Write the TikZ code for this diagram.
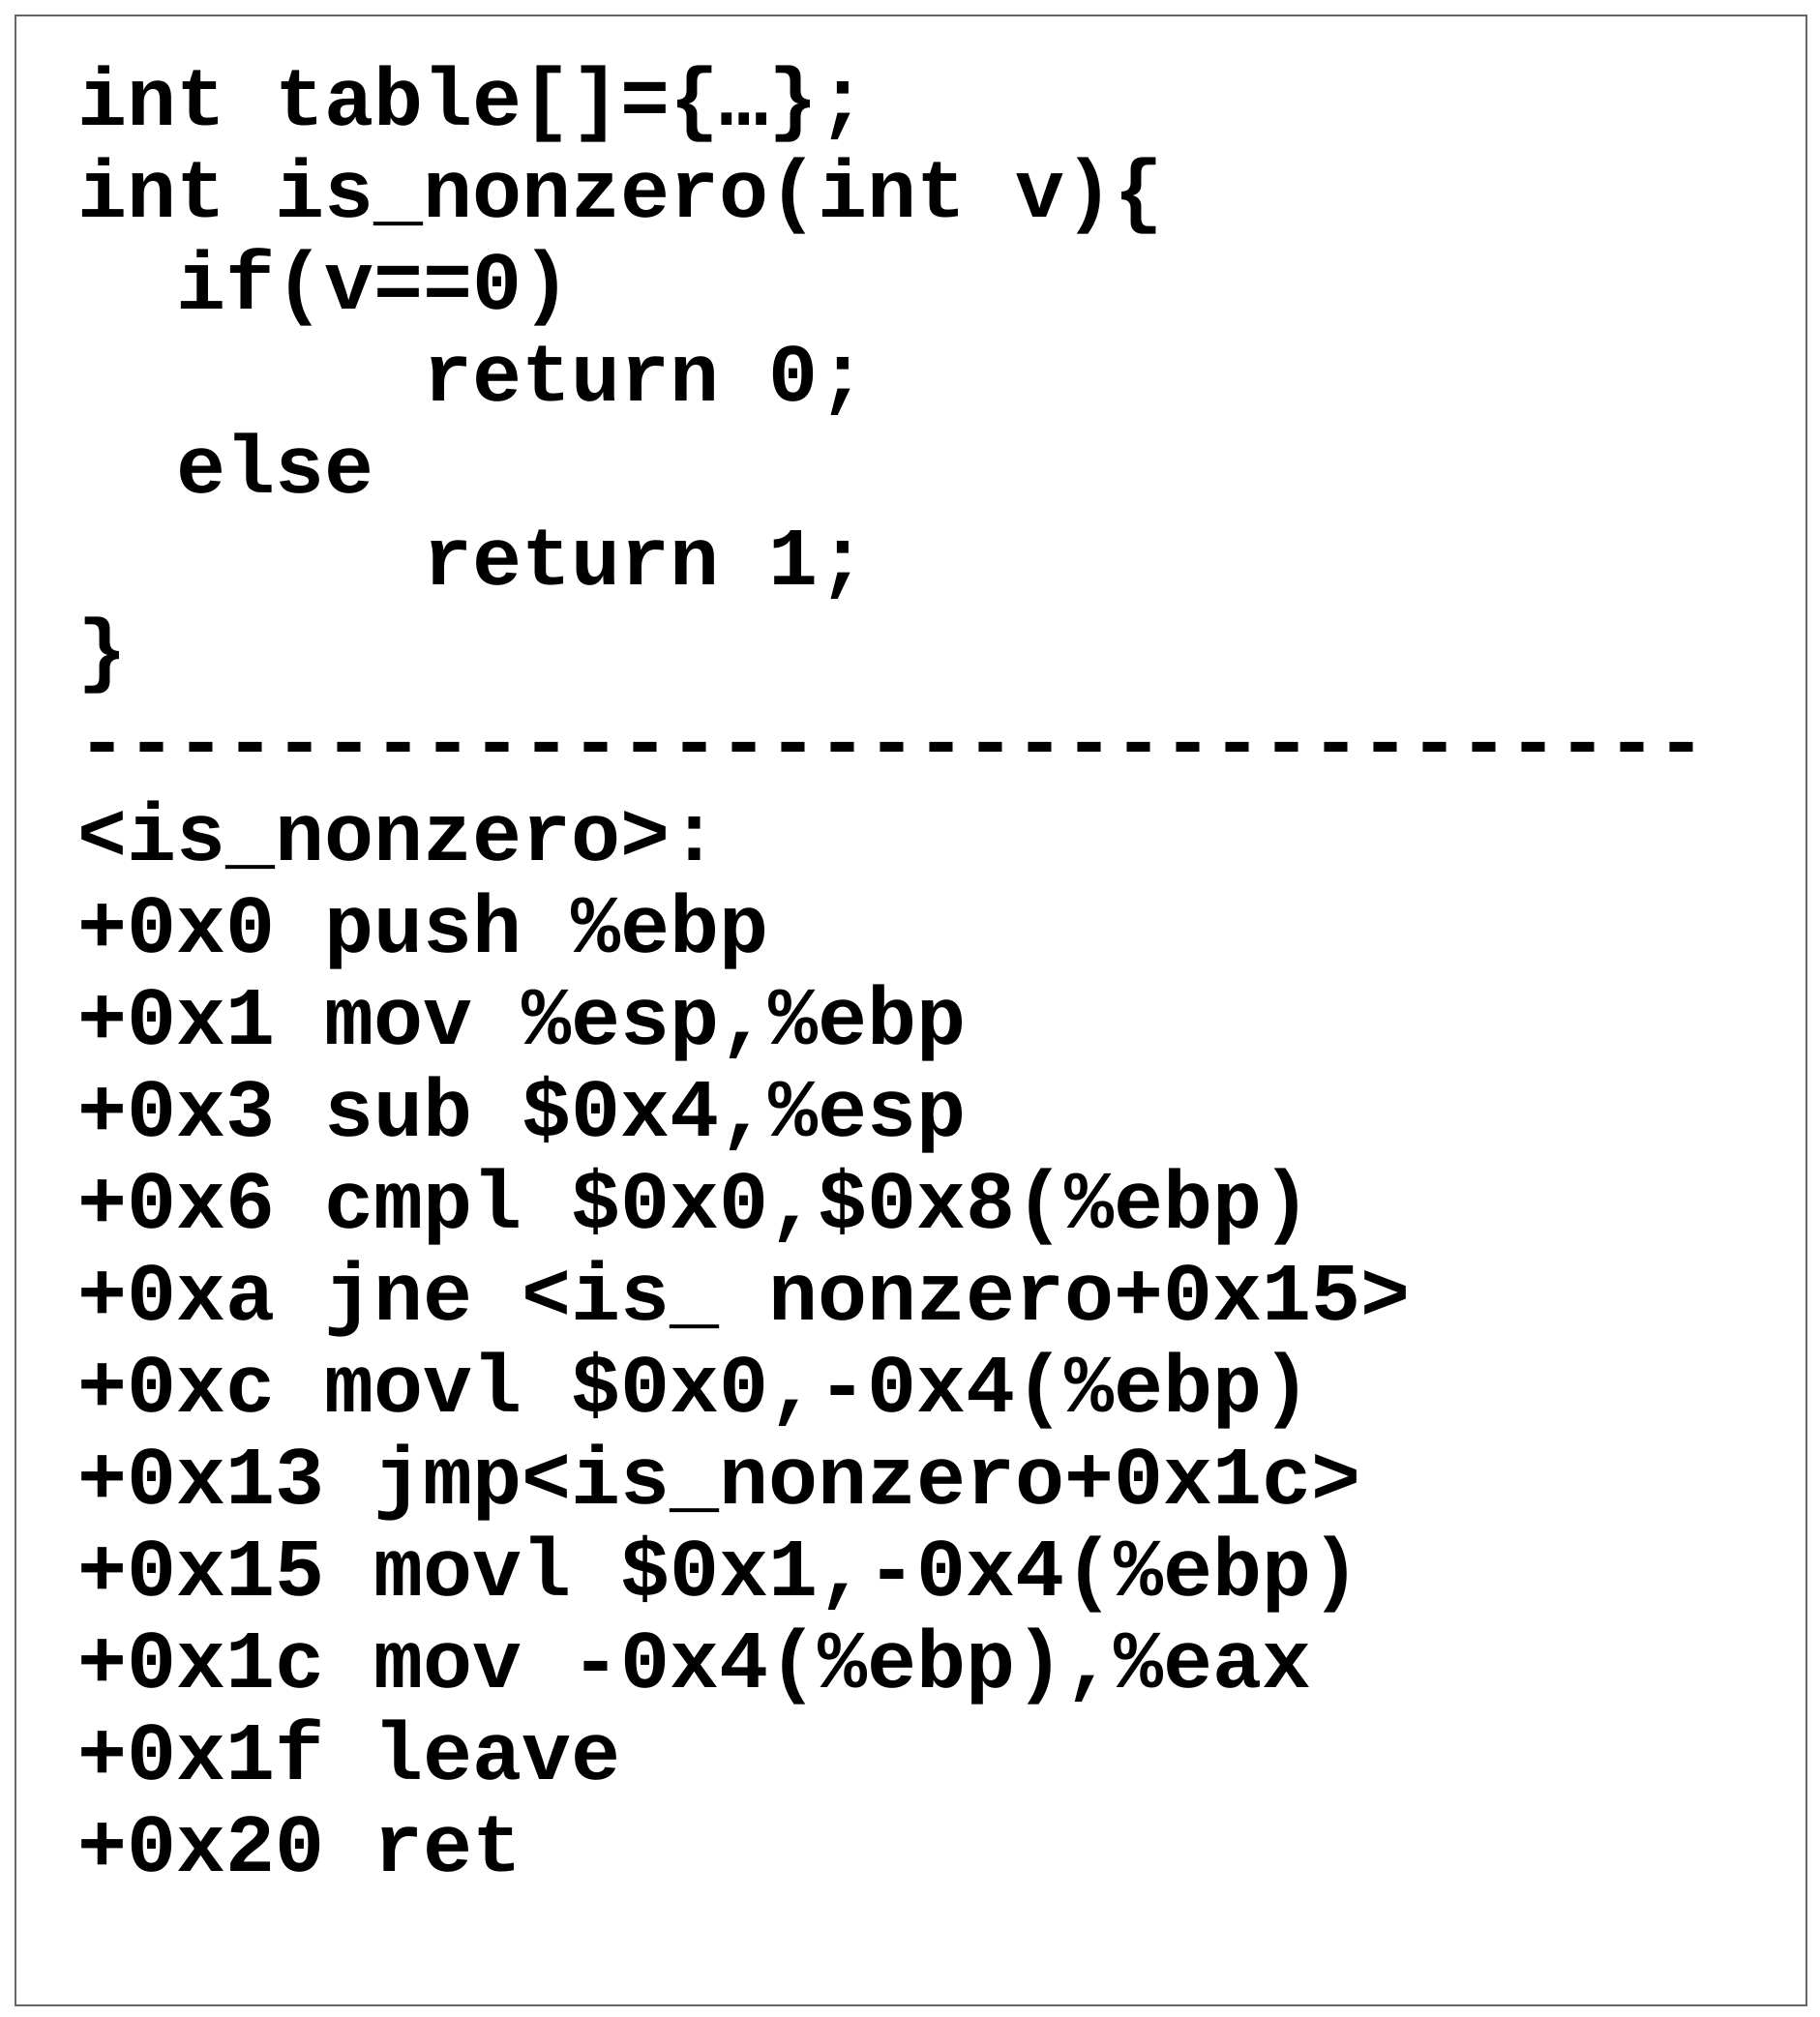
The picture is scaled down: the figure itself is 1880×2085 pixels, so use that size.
\documentclass[tikz,border=0pt]{standalone}
\usepackage{fontspec}
\setmonofont{Liberation Mono}
\begin{document}
\begin{tikzpicture}[x=1pt,y=-1pt,ln/.style={anchor=base west,inner sep=0pt,font=\ttfamily\bfseries\fontsize{85}{95}\selectfont}]
\useasboundingbox (0,0) rectangle (1880,2085);
\fill[white] (0,0) rectangle (1880,2085);
\draw[draw=black!60,line width=2pt] (16,16) rectangle (1867,2073);
\def\L#1#2#3{\node[ln] (n#1) at ({80+#2*51},{129+(#1-1)*95}) {#3};}
\L{1}{0}{int table[]=\{…\};}
\L{2}{0}{int is\_nonzero(int v)\{}
\L{3}{2}{if(v==0)}
\L{4}{7}{return 0;}
\L{5}{2}{else}
\L{6}{7}{return 1;}
\L{7}{0}{\}}
\L{8}{0}{---------------------------------}
\L{9}{0}{<is\_nonzero>:}
\L{10}{0}{+0x0 push \%ebp}
\L{11}{0}{+0x1 mov \%esp,\%ebp}
\L{12}{0}{+0x3 sub \$0x4,\%esp}
\L{13}{0}{+0x6 cmpl \$0x0,\$0x8(\%ebp)}
\L{14}{0}{+0xa jne <is\_ nonzero+0x15>}
\L{15}{0}{+0xc movl \$0x0,-0x4(\%ebp)}
\L{16}{0}{+0x13 jmp<is\_nonzero+0x1c>}
\L{17}{0}{+0x15 movl \$0x1,-0x4(\%ebp)}
\L{18}{0}{+0x1c mov -0x4(\%ebp),\%eax}
\L{19}{0}{+0x1f leave}
\L{20}{0}{+0x20 ret}
\end{tikzpicture}
\end{document}
